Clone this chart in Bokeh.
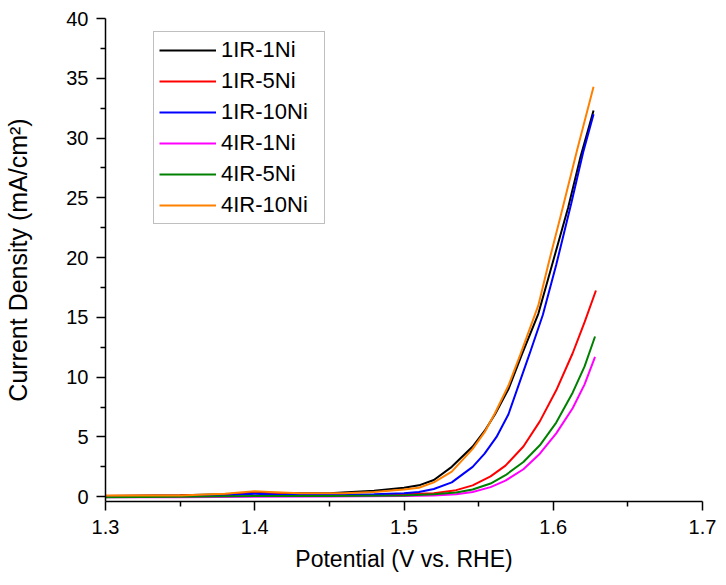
from bokeh.plotting import figure
from bokeh.models import FixedTicker
from bokeh.embed import file_html
from bokeh.resources import INLINE

# ---------------- data ----------------
v_1ir_1ni = [1.30, 1.35, 1.38, 1.40, 1.42, 1.45, 1.48, 1.50, 1.51, 1.52, 1.532, 1.546, 1.554, 1.561, 1.570, 1.579, 1.590, 1.599, 1.610, 1.618, 1.627]
j_1ir_1ni = [0.05, 0.12, 0.20, 0.35, 0.30, 0.30, 0.50, 0.75, 0.95, 1.40, 2.50, 4.20, 5.50, 6.90, 9.00, 11.9, 15.3, 19.3, 24.2, 28.3, 32.3]

v_1ir_5ni = [1.30, 1.35, 1.38, 1.40, 1.42, 1.45, 1.48, 1.50, 1.52, 1.535, 1.546, 1.558, 1.568, 1.580, 1.591, 1.602, 1.613, 1.621, 1.6286]
j_1ir_5ni = [0.05, 0.10, 0.15, 0.30, 0.20, 0.15, 0.15, 0.20, 0.30, 0.55, 0.95, 1.70, 2.60, 4.20, 6.30, 8.90, 12.0, 14.6, 17.25]

v_1ir_10ni = [1.30, 1.35, 1.38, 1.40, 1.42, 1.45, 1.48, 1.50, 1.51, 1.52, 1.532, 1.546, 1.554, 1.562, 1.570, 1.584, 1.593, 1.602, 1.612, 1.620, 1.627]
j_1ir_10ni = [0.00, 0.05, 0.10, 0.25, 0.15, 0.15, 0.20, 0.30, 0.40, 0.65, 1.20, 2.50, 3.60, 5.00, 6.90, 11.9, 15.2, 19.4, 24.5, 28.8, 32.0]

v_4ir_1ni = [1.30, 1.35, 1.40, 1.45, 1.50, 1.52, 1.535, 1.546, 1.558, 1.568, 1.580, 1.591, 1.602, 1.613, 1.621, 1.628]
j_4ir_1ni = [-0.05, -0.05, 0.00, 0.02, 0.05, 0.10, 0.20, 0.40, 0.80, 1.35, 2.30, 3.60, 5.30, 7.40, 9.40, 11.7]

v_4ir_5ni = [1.30, 1.35, 1.40, 1.45, 1.50, 1.52, 1.535, 1.546, 1.558, 1.568, 1.580, 1.591, 1.602, 1.613, 1.621, 1.628]
j_4ir_5ni = [-0.05, 0.00, 0.05, 0.05, 0.10, 0.20, 0.35, 0.60, 1.10, 1.80, 2.90, 4.30, 6.20, 8.70, 10.9, 13.4]

v_4ir_10ni = [1.30, 1.35, 1.38, 1.40, 1.41, 1.43, 1.46, 1.48, 1.50, 1.51, 1.52, 1.532, 1.546, 1.554, 1.561, 1.570, 1.578, 1.590, 1.597, 1.605, 1.616, 1.627]
j_4ir_10ni = [0.10, 0.10, 0.25, 0.45, 0.40, 0.30, 0.30, 0.40, 0.60, 0.75, 1.20, 2.10, 4.00, 5.40, 7.00, 9.30, 11.9, 16.0, 19.6, 23.5, 29.0, 34.3]

series_names = ["1IR-1Ni", "1IR-5Ni", "1IR-10Ni", "4IR-1Ni", "4IR-5Ni", "4IR-10Ni"]
series_x = [v_1ir_1ni, v_1ir_5ni, v_1ir_10ni, v_4ir_1ni, v_4ir_5ni, v_4ir_10ni]
series_y = [j_1ir_1ni, j_1ir_5ni, j_1ir_10ni, j_4ir_1ni, j_4ir_5ni, j_4ir_10ni]
series_colors = ["#000000", "#ff0000", "#0000ff", "#ff00ff", "#008000", "#ff8000"]

x_ticks = [1.3, 1.4, 1.5, 1.6, 1.7]
x_tick_labels = ["1.3", "1.4", "1.5", "1.6", "1.7"]
x_minor = [1.35, 1.45, 1.55, 1.65]
y_ticks = [0, 5, 10, 15, 20, 25, 30, 35, 40]
y_tick_labels = ["0", "5", "10", "15", "20", "25", "30", "35", "40"]
y_minor = [2.5, 7.5, 12.5, 17.5, 22.5, 27.5, 32.5, 37.5]

FONT = "Liberation Sans"

p = figure(width=718, height=577, x_range=(1.3, 1.7), y_range=(-0.4, 40),
           output_backend="svg", toolbar_location=None,
           min_border_left=105, min_border_right=16, min_border_top=18, min_border_bottom=76)
p.outline_line_color = None
p.xgrid.visible = False
p.ygrid.visible = False

for name, xs, ys, c in zip(series_names, series_x, series_y, series_colors):
    p.line(xs, ys, line_color=c, line_width=2, legend_label=name)

for ax in (p.xaxis[0], p.yaxis[0]):
    ax.axis_line_color = "#000000"
    ax.axis_line_width = 1.5
    ax.major_tick_line_color = "#000000"
    ax.minor_tick_line_color = "#000000"
    ax.major_tick_line_width = 1.5
    ax.minor_tick_line_width = 1.5
    ax.major_tick_in = 0
    ax.major_tick_out = 9
    ax.minor_tick_in = 0
    ax.minor_tick_out = 5
    ax.major_label_text_font = FONT
    ax.major_label_text_font_size = "20px"
    ax.major_label_text_color = "#000000"
    ax.axis_label_text_font = FONT
    ax.axis_label_text_font_style = "normal"
    ax.axis_label_text_color = "#000000"

p.xaxis[0].ticker = FixedTicker(ticks=x_ticks, minor_ticks=x_minor)
p.xaxis[0].major_label_overrides = dict(zip(x_ticks, x_tick_labels))
p.xaxis[0].axis_label = "Potential (V vs. RHE)"
p.xaxis[0].axis_label_text_font_size = "23px"
p.xaxis[0].major_label_standoff = 9
p.xaxis[0].axis_label_standoff = 9

p.yaxis[0].ticker = FixedTicker(ticks=y_ticks, minor_ticks=y_minor)
p.yaxis[0].major_label_overrides = dict(zip(y_ticks, y_tick_labels))
p.yaxis[0].axis_label = "Current Density (mA/cm\u00b2)"
p.yaxis[0].axis_label_text_font_size = "25px"
p.yaxis[0].major_label_standoff = 8
p.yaxis[0].axis_label_standoff = 31

lg = p.legend[0]
lg.location = (48, 277)
lg.label_text_font = FONT
lg.label_text_font_size = "22px"
lg.label_text_color = "#000000"
lg.glyph_width = 57
lg.glyph_height = 20
lg.label_height = 20
lg.label_width = 98
lg.label_standoff = 5
lg.spacing = 5
lg.padding = 5
lg.margin = 0
lg.border_line_color = "#808080"
lg.border_line_width = 1
lg.background_fill_color = "#ffffff"
lg.background_fill_alpha = 1.0

open("out.html", "w").write(file_html(p, INLINE))
